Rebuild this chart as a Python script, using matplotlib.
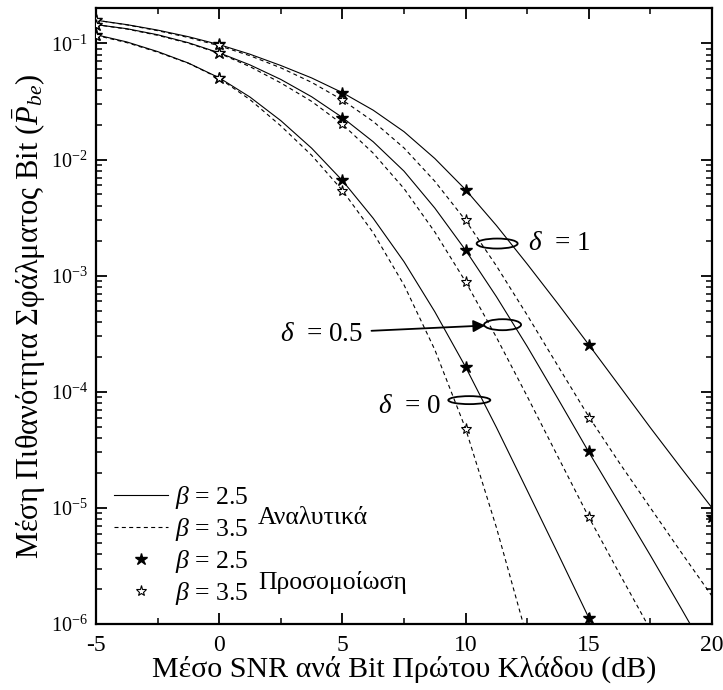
import numpy as np
import matplotlib
matplotlib.use("Agg")
import matplotlib.pyplot as plt
from matplotlib.lines import Line2D
from matplotlib.patches import Ellipse
from matplotlib.ticker import MultipleLocator

plt.rcParams['font.family'] = 'Liberation Serif'
plt.rcParams['mathtext.fontset'] = 'custom'
plt.rcParams['mathtext.rm'] = 'Liberation Serif'
plt.rcParams['mathtext.it'] = 'Liberation Serif:italic'
plt.rcParams['axes.unicode_minus'] = False

# average SNR per bit of the first branch (dB)
snr = [-5, -3.75, -2.5, -1.25, 0, 1.25, 2.5, 3.75, 5, 6.25, 7.5, 8.75, 10,
       11.25, 12.5, 13.75, 15, 16.25, 17.5, 18.75, 20]

# analytical average BER as log10, one curve per (delta, beta)
lg_d1_b25 = [-0.800, -0.838, -0.885, -0.942, -1.010, -1.093, -1.190, -1.297, -1.424, -1.575, -1.760,
             -1.991, -2.260, -2.568, -2.900, -3.243, -3.595, -3.952, -4.310, -4.658, -5.000]
lg_d1_b35 = [-0.800, -0.840, -0.890, -0.949, -1.020, -1.106, -1.210, -1.335, -1.487, -1.672, -1.900,
             -2.187, -2.524, -2.916, -3.340, -3.779, -4.215, -4.615, -5.000, -5.383, -5.760]
lg_d05_b25 = [-0.838, -0.873, -0.925, -0.994, -1.081, -1.185, -1.310, -1.459, -1.638, -1.847, -2.100,
              -2.418, -2.781, -3.181, -3.610, -4.061, -4.520, -4.964, -5.410, -5.866, -6.330]
lg_d05_b35 = [-0.838, -0.876, -0.930, -0.998, -1.085, -1.200, -1.340, -1.499, -1.696, -1.945, -2.250,
              -2.624, -3.052, -3.531, -4.040, -4.561, -5.080, -5.569, -6.050, -6.540, -7.030]
lg_d0_b25 = [-0.925, -0.987, -1.070, -1.169, -1.296, -1.462, -1.665, -1.902, -2.181, -2.506, -2.880,
             -3.311, -3.787, -4.307, -4.850, -5.395, -5.947, -6.505, -7.070, -7.635, -8.200]
lg_d0_b35 = [-0.930, -0.993, -1.075, -1.171, -1.300, -1.484, -1.710, -1.963, -2.266, -2.630, -3.080,
             -3.638, -4.318, -5.169, -6.120, -7.100, -8.100, -9.100, -10.100, -11.100, -12.100]

# simulation points
sim_snr = [-5, 0, 5, 10, 15, 20]
sim_d1_b25 = [0.158, 0.098, 0.0377, 5.5e-3, 2.54e-4, 8.3e-6]
sim_d05_b25 = [0.145, 0.083, 0.023, 1.66e-3, 3.1e-5, np.nan]
sim_d0_b25 = [0.119, 0.0506, 6.6e-3, 1.63e-4, 1.13e-6, np.nan]
sim_d1_b35 = [0.158, 0.096, 0.0326, 2.99e-3, 5.9e-5, np.nan]
sim_d05_b35 = [0.145, 0.082, 0.0201, 8.9e-4, 8.3e-6, np.nan]
sim_d0_b35 = [0.117, 0.050, 5.4e-3, 4.8e-5, np.nan, np.nan]

fig = plt.figure(figsize=(7.23, 6.90), dpi=100)
ax = fig.add_axes([0.1328, 0.0957, 0.852, 0.892])

lw = 0.8
dash = (3.6, 3.0)
for lg in (lg_d1_b25, lg_d05_b25, lg_d0_b25):
    ax.semilogy(snr, 10.0 ** np.array(lg), color='black', lw=lw)
for lg in (lg_d1_b35, lg_d05_b35, lg_d0_b35):
    ax.semilogy(snr, 10.0 ** np.array(lg), color='black', lw=lw, dashes=dash)

for sim in (sim_d1_b25, sim_d05_b25, sim_d0_b25):
    ax.semilogy(sim_snr, sim, ls='none', marker='*', ms=9, color='black', zorder=4)
for sim in (sim_d1_b35, sim_d05_b35, sim_d0_b35):
    ax.semilogy(sim_snr, sim, ls='none', marker='*', ms=8, mfc='white', mec='black',
                mew=0.8, zorder=5)

ax.set_xlim(-5, 20)
ax.set_ylim(1e-6, 0.2)
ax.set_xticks([-5, 0, 5, 10, 15, 20])
ax.xaxis.set_minor_locator(MultipleLocator(2.5))
ax.tick_params(which='both', direction='in', top=True, right=True)
ax.tick_params(axis='x', labelsize=17, pad=8)
ax.tick_params(axis='y', labelsize=14.5, pad=6)
ax.tick_params(which='major', length=8, width=1.3)
ax.tick_params(which='minor', length=4.5, width=1.1)
for sp in ax.spines.values():
    sp.set_linewidth(1.6)

ax.set_xlabel('Μέσο SNR ανά Bit Πρώτου Κλάδου (dB)', fontsize=21.6, labelpad=0)
ax.set_ylabel(r'Μέση Πιθανότητα Σφάλματος Bit ($\bar{P}_{be}$)', fontsize=22, labelpad=2)

# ellipses grouping the curves of each delta
def ring(x, y, w_px, h_px):
    cx, cy = ax.transAxes.inverted().transform(ax.transData.transform((x, y)))
    bb = ax.get_window_extent()
    ax.add_patch(Ellipse((cx, cy), w_px / bb.width, h_px / bb.height,
                         transform=ax.transAxes, fill=False, lw=1.3, color='black', zorder=6))

ring(11.28, 1.89e-3, 41, 10)
ring(11.5, 3.78e-4, 37, 11)
ring(10.15, 8.47e-5, 42, 8)

ax.text(12.55, 1.9e-3, r'$\delta$  = 1', fontsize=19.5, va='center', ha='left')
ax.text(2.45, 3.12e-4, r'$\delta$  = 0.5', fontsize=19.5, va='center', ha='left')
ax.text(6.45, 7.53e-5, r'$\delta$  = 0', fontsize=19.5, va='center', ha='left')
ax.annotate('', xy=(10.8, 3.72e-4), xytext=(6.18, 3.35e-4),
            arrowprops=dict(arrowstyle='-|>', color='black', lw=1.3,
                            mutation_scale=18, shrinkA=0, shrinkB=0))

handles = [
    Line2D([], [], color='black', lw=lw),
    Line2D([], [], color='black', lw=lw, dashes=dash),
    Line2D([], [], ls='none', marker='*', ms=9, color='black'),
    Line2D([], [], ls='none', marker='*', ms=8, mfc='white', mec='black', mew=0.8),
]
labels = [r'$\beta$ = 2.5', r'$\beta$ = 3.5', r'$\beta$ = 2.5', r'$\beta$ = 3.5']
ax.legend(handles, labels, loc='upper left', bbox_to_anchor=(0.029, 0.228), frameon=False,
          fontsize=18.5, handlelength=2.1, handletextpad=0.27, labelspacing=0.2,
          borderpad=0, borderaxespad=0)
ax.text(0.263, 0.172, 'Αναλυτικά', transform=ax.transAxes, fontsize=18.5, va='center')
ax.text(0.263, 0.068, 'Προσομοίωση', transform=ax.transAxes, fontsize=18.5, va='center')

fig.savefig('out.png', dpi=100)
